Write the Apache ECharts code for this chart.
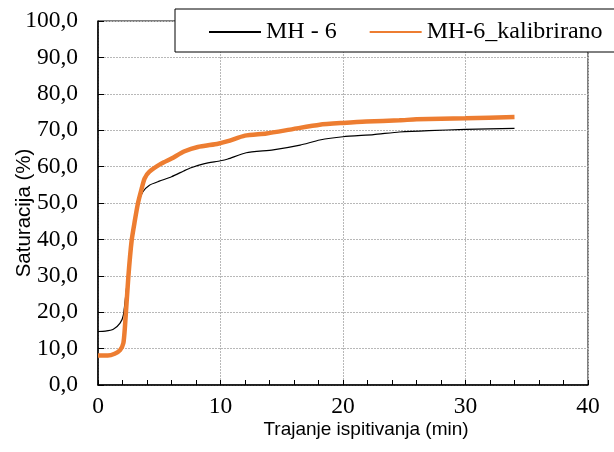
<!DOCTYPE html>
<html>
<head>
<meta charset="utf-8">
<script src="https://cdn.jsdelivr.net/npm/echarts@6/dist/echarts.min.js"></script>
<style>html,body{margin:0;padding:0;background:#fff;}#c{width:614px;height:452px;}</style>
</head>
<body>
<div id="c"></div>
<script>
var seriesNames = ['MH - 6', 'MH-6_kalibrirano'];
var xTitle = 'Trajanje ispitivanja (min)';
var yTitle = 'Saturacija (%)';
var xTicks = [0, 10, 20, 30, 40];
var yTicks = [0, 10, 20, 30, 40, 50, 60, 70, 80, 90, 100];

var mh6 = [[0,14.7],[0.6,14.8],[1.25,15.3],[1.8,17.0],[2.07,19.2],[2.34,27],[2.6,35.2],[2.85,43.0],[3.26,49.9],[3.67,53.1],[4.2,54.9],[5,56.0],[6,57.2],[7,58.8],[7.6,59.7],[8.7,60.8],[10,61.6],[10.6,62.1],[12.1,63.8],[14.3,64.6],[16.5,65.9],[18.1,67.3],[20,68.2],[22.5,68.8],[24.6,69.5],[27,69.9],[30,70.2],[34,70.5]];
var mh6kal = [[0,8.1],[0.8,8.1],[1.36,8.6],[1.8,9.6],[2.07,11.5],[2.2,16],[2.48,29.8],[2.75,39.8],[3.0,45.0],[3.26,49.9],[3.53,53.5],[3.8,56.7],[4.2,58.6],[5.16,60.8],[6,62.2],[7.07,64.2],[8.15,65.4],[9.8,66.3],[10.6,67.0],[12,68.5],[13.75,69.1],[15.9,70.3],[18.1,71.5],[20,72.0],[21.9,72.4],[24.6,72.7],[26,73.0],[30,73.3],[34,73.6]];

var chart = echarts.init(document.getElementById('c'));
var serif = 'Liberation Serif';
chart.setOption({
  animation: false,
  backgroundColor: '#fff',
  grid: {left: 98, right: 26, top: 21, bottom: 67, show: true, borderColor: '#000', borderWidth: 1},
  legend: {
    left: 203, top: 15, z: 10,
    itemWidth: 52, itemHeight: 10, itemGap: 32,
    itemStyle: {opacity: 0},
    textStyle: {fontFamily: serif, fontSize: 24, color: '#000'},
    data: seriesNames
  },
  graphic: [
    {type: 'rect', z: 5, shape: {x: 175, y: 9, width: 480, height: 43}, style: {fill: '#fff', stroke: '#000', lineWidth: 1}},
    {type: 'text', z: 5, x: 366, y: 430, style: {text: xTitle, fontFamily: 'Liberation Sans', fontSize: 19, fill: '#000', align: 'center', verticalAlign: 'middle'}},
    {type: 'text', z: 5, x: 24, y: 213, rotation: Math.PI/2, style: {text: yTitle, fontFamily: 'Liberation Sans', fontSize: 20.5, fill: '#000', align: 'center', verticalAlign: 'middle'}}
  ],
  xAxis: {
    type: 'value', min: xTicks[0], max: xTicks[xTicks.length-1], interval: 10,
    axisLine: {lineStyle: {color: '#000', width: 1.5}},
    axisTick: {inside: true, length: 5, lineStyle: {color: '#000'}},
    minorTick: {show: true, splitNumber: 5, length: 5, lineStyle: {color: '#000'}},
    axisLabel: {margin: 10, fontFamily: serif, fontSize: 23.5, color: '#000'},
    splitLine: {show: true, lineStyle: {color: '#b8b8b8', type: [2,1], width: 1}}
  },
  yAxis: {
    type: 'value', min: yTicks[0], max: yTicks[yTicks.length-1], interval: 10,
    axisLine: {show: true, lineStyle: {color: '#000', width: 1.5}},
    axisTick: {show: true, inside: true, length: 6, lineStyle: {color: '#000'}},
    axisLabel: {margin: 20, fontFamily: serif, fontSize: 23.5, color: '#000',
      formatter: function (v) { return v.toFixed(1).replace('.', ','); }},
    splitLine: {show: true, lineStyle: {color: '#b8b8b8', type: [2,1], width: 1}}
  },
  series: [
    {name: seriesNames[0], type: 'line', data: mh6, symbol: 'none', smooth: 0.2, z: 2,
      lineStyle: {color: '#000', width: 1.2}, itemStyle: {color: '#000'}},
    {name: seriesNames[1], type: 'line', data: mh6kal, symbol: 'none', smooth: 0.2, z: 3,
      lineStyle: {color: '#ED7D31', width: 4.5}, itemStyle: {color: '#ED7D31'}}
  ]
});
</script>
</body>
</html>
